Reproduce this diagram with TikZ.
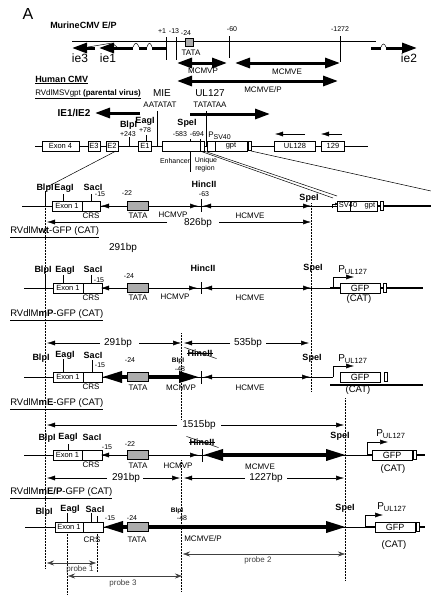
\documentclass[tikz,border=0pt]{standalone}
\usepackage{fontspec}
\setmainfont{Liberation Sans}
\usetikzlibrary{arrows.meta,positioning}
\newcommand{\pul}{{\fontsize{10}{10}\selectfont P}\raisebox{-2.5pt}{\fontsize{7.5}{8}\selectfont UL127}}

\begin{document}
\begin{tikzpicture}[x=1pt,y=-1pt,line width=0.5pt,
  every node/.style={inner sep=0pt,font=\fontsize{8}{9}\selectfont},
  site/.style={font=\bfseries\fontsize{9}{10}\selectfont},
  smallsite/.style={font=\bfseries\fontsize{6.5}{7}\selectfont},
  num/.style={font=\fontsize{7}{8}\selectfont},
  dimtxt/.style={font=\fontsize{10}{11}\selectfont},
  construct/.style={anchor=west,font=\fontsize{9.5}{10}\selectfont},
  genebox/.style={draw,fill=white,minimum height=10pt,font=\fontsize{7.5}{8}\selectfont},
  gfpbox/.style={draw,fill=white,minimum width=40pt,minimum height=10pt,font=\fontsize{9}{9}\selectfont},
  tatabox/.style={draw,fill=gray!65,minimum width=21pt,minimum height=9pt},
  endbar/.style={draw,fill=white,minimum width=3pt,minimum height=9pt},
  arr/.style={-{Latex[length=8pt,width=5pt]}},
  dimarr/.style={{Latex[length=8pt,width=5pt]}-{Latex[length=8pt,width=5pt]}},
  fatarr/.style={line width=3pt,-{Triangle[length=15pt,width=10pt]}},
  fatboth/.style={line width=3pt,{Triangle[length=15pt,width=10pt]}-{Triangle[length=15pt,width=10pt]}},
  fatrow/.style={line width=3.5pt,{Triangle[length=20pt,width=11pt]}-{Triangle[length=20pt,width=11pt]}},
  guide/.style={densely dotted,line width=0.5pt},
  probe/.style={gray!50!black,{Stealth[length=7pt,width=5pt]}-{Stealth[length=7pt,width=5pt]}},
  bb/.style={line width=1.2pt},
]
\useasboundingbox (0,0) rectangle (431,598);

\node[font=\fontsize{16}{16}\selectfont] (panelA) at (28,14) {A};
\node[anchor=west,font=\bfseries\fontsize{9}{10}\selectfont] (murine) at (50,25) {MurineCMV E/P};
\draw (72,41) -- (376,41);
\draw[fatarr] (95,48) -- (72,48);
\draw[fatarr] (118,48) -- (99,48);
\draw (88,47) -- (112,43) -- (117,47);
\draw[line width=3pt] (118,48) -- (133,48) (139,48) -- (147,48) (152,48) -- (166,48);
\draw (133,47) .. controls (135,42) and (137,42) .. (139,47);
\draw (147,47) .. controls (148.5,42) and (150.5,42) .. (152,47);
\draw (166,37) -- (166,60) (176,37) -- (176,60) (229,36) -- (229,58) (340,36) -- (340,62);
\node[draw,fill=gray!65,minimum size=8pt] (tataM) at (189,42) {};
\node[num] (m1) at (162,31) {+1};
\node[num] (m13) at (174,31) {-13};
\node[num] (m24) at (186,33) {-24};
\node[num] (m60) at (232,29) {-60};
\node[num] (m1272) at (340,29) {-1272};
\node (tataMl) at (191,53) {TATA};
\node[font=\fontsize{12}{12}\selectfont] (ie3) at (80,58) {ie3};
\node[font=\fontsize{12}{12}\selectfont] (ie1) at (108,58) {ie1};
\node[font=\fontsize{12}{12}\selectfont] (ie2) at (409,58) {ie2};
\draw[line width=3pt] (371,48) -- (381,48) (386,48) -- (393,48);
\draw (381,47) .. controls (382.5,43) and (384.5,43) .. (386,47);
\draw[fatarr] (392,48) -- (417,48);
\draw[fatboth] (177,63) -- (227,63);
\node (mcmvp) at (203,71) {MCMVP};
\draw[fatboth] (235,63) -- (340,63);
\node (mcmve) at (287,72) {MCMVE};
\draw[fatboth] (177,81) -- (338,81);
\node (mcmvep) at (263,90) {MCMVE/P};

\node[anchor=west,font=\bfseries\fontsize{9}{10}\selectfont] (human) at (35,80) {\underline{Human CMV}};
\node[anchor=west,font=\fontsize{8}{9}\selectfont] (parent) at (35,94) {\underline{RVdlMSVgpt \textbf{(parental virus)}}};
\node[font=\fontsize{10}{10}\selectfont] (mie) at (162,93) {MIE};
\node (mietata) at (160,105) {AATATAT};
\node[font=\fontsize{10}{10}\selectfont] (ul127) at (210,93) {UL127};
\node (ultata) at (210,105) {TATATAA};
\node[font=\bfseries\fontsize{10}{10}\selectfont] (ie12) at (74,113) {IE1/IE2};
\draw[fatarr] (140,113) -- (95,113);
\draw[fatarr] (190,114) -- (270,114);
\draw (35,146) -- (368,146);
\draw (129,137) -- (129,146) (146,135) -- (146,141) (157,111) -- (157,146) (206,111) -- (206,146);
\draw (190,139) -- (190,172) (200,139) -- (200,150);
\node[genebox,minimum width=37pt] (exon4) at (60.5,146) {Exon 4};
\node[genebox,minimum width=12pt] (e3) at (94,146) {E3};
\node[genebox,minimum width=12pt] (e2) at (112,146) {E2};
\node[genebox,minimum width=13pt] (e1) at (145,146) {E1};
\node[genebox,minimum width=38pt] (enh) at (181,146) {};
\node[genebox,minimum width=4pt] (uniq) at (202,146) {};
\node[genebox,minimum width=8pt] (psv) at (211,146) {};
\node[genebox,minimum width=32pt] (gpt) at (231,146) {gpt};
\node[endbar] (gptend) at (249.5,146) {};
\node[genebox,minimum width=41pt] (ul128) at (295,146) {UL128};
\node[genebox,minimum width=23pt] (ul129) at (333,146) {129};
\draw[arr] (305,134) -- (275,134);
\draw[arr] (342,134) -- (321,134);
\node[site] (blpP) at (128.5,125) {BlpI};
\node[num] (blpPn) at (128,134) {+243};
\node[site] (eagP) at (145,121) {EagI};
\node[num] (eagPn) at (145,130) {+78};
\node[site] (speP) at (187,123) {SpeI};
\node[num] (speP1) at (180,134) {-583};
\node[num] (speP2) at (197,134) {-694};
\node[anchor=west] (psvl) at (208,136) {P\raisebox{-2pt}{\fontsize{7}{7}\selectfont SV40}};
\node[num] (enhl) at (175,161) {Enhancer};
\node[num] (uniql) at (206,161) {Unique};
\node[num] (regl) at (205,169) {region};
\draw (116,151) -- (47,187);
\draw (200,151) -- (333,198);
\draw (204,151) -- (337,196);
\draw (251,151) -- (431,191);

\draw (22,206) -- (312,206);
\draw[line width=0.8pt] (312,206) -- (337,206);
\draw[-{Latex[length=3pt,width=3pt]}] (332,208) -- (332,204) -- (338,204);
\draw[bb] (377,206) -- (431,206);
\node[genebox,minimum width=40pt] (sv40gpt) at (357,206) {SV40\quad gpt};
\draw (350,201) -- (350,211);
\node[endbar] (gptend1) at (382,206) {};
\node[site] (blp1) at (45,188) {BlpI};
\draw (45,191) -- (45,206) (63,194) -- (63,201) (91,194) -- (91,201);
\node[site] (eag1) at (64,188) {EagI};
\node[site] (sac1) at (93,187) {SacI};
\node[num] (n15a) at (100,194) {-15};
\node[genebox,minimum width=30pt] (ex1a) at (67,206) {Exon 1};
\node[genebox,minimum width=18pt] (crs1) at (91,206) {};
\node (crs1l) at (91,216) {CRS};
\node[num] (n22a) at (127,193) {-22};
\draw[arr] (127,206) -- (101,206);
\node[tatabox] (tata1) at (138,206) {};
\node (tata1l) at (138,216) {TATA};
\draw[arr] (148,206) -- (198,206);
\node (hcmvp1) at (173,215) {HCMVP};
\draw (201,199) -- (201,212);
\node[site] (hinc1) at (204,184) {HincII};
\node[num] (n63) at (204,194) {-63};
\draw[dimarr] (203,206) -- (311,206);
\node (hcmve1) at (250,216) {HCMVE};
\node[site] (spe1) at (309,198) {SpeI};
\draw[guide] (311,203) -- (311,392);
\draw[guide] (45,206) -- (45,568);
\draw[arr] (167,222) -- (47,222);
\node[dimtxt] (d826) at (198,223) {826bp};
\draw[arr] (219,222) -- (311,222);
\node[construct] (c1) at (10,232) {\underline{RVdlM\textbf{wt}-GFP (CAT)}};
\node[dimtxt] (d291a) at (123,248) {291bp};

\draw (24,288) -- (330,288);
\draw[bb] (330,288) -- (423,288);
\node[site] (blp2) at (43,270) {BlpI};
\draw (45,274) -- (45,288) (63,275) -- (63,283) (91,275) -- (91,283);
\node[site] (eag2) at (65,270) {EagI};
\node[site] (sac2) at (93,269) {SacI};
\node[num] (n15b) at (99,280) {-15};
\node[genebox,minimum width=30pt] (ex1b) at (68,288) {Exon 1};
\node[genebox,minimum width=19pt] (crs2) at (92.5,288) {};
\node (crs2l) at (91,298) {CRS};
\node[num] (n24b) at (129,276) {-24};
\draw[arr] (127,288) -- (101,288);
\node[tatabox] (tata2) at (138,288) {};
\node (tata2l) at (138,298) {TATA};
\draw[arr] (148,288) -- (197,288);
\node (hcmvp2) at (175,297) {HCMVP};
\draw (201,282) -- (201,294);
\node[site] (hinc2) at (203,268) {HincII};
\draw[dimarr] (204,288) -- (311,288);
\node (hcmve2) at (250,298) {HCMVE};
\node[site] (spe2) at (313,268) {SpeI};
\draw[arr] (333,288) -- (333,277) -- (354,277);
\node[anchor=west] (pul2) at (338,270) {\pul};
\node[gfpbox] (gfp2) at (360,288) {GFP};
\node[endbar] (gfpend2) at (385,288) {};
\node[font=\fontsize{9.5}{10}\selectfont] (cat2) at (359,299) {(CAT)};
\node[construct] (c2) at (10,315) {\underline{RVdlM\textbf{mP}-GFP (CAT)}};

\draw[arr] (100,343) -- (47,343);
\node[dimtxt] (d291b) at (118,343) {291bp};
\draw[arr] (139,343) -- (181,343);
\draw[arr] (230,343) -- (184,343);
\node[dimtxt] (d535) at (248,343) {535bp};
\draw[arr] (266,343) -- (309,343);
\draw[guide] (181,333) -- (181,420);
\draw (24,377) -- (333,377);
\node[site] (blp3) at (41,358) {BlpI};
\draw (63,359) -- (63,372) (92,360) -- (92,372);
\node[site] (eag3) at (65,355) {EagI};
\node[site] (sac3) at (93,355) {SacI};
\node[num] (n15c) at (100,365) {-15};
\node[num] (n24c) at (130,360) {-24};
\node[genebox,minimum width=30pt] (ex1c) at (68,377) {Exon 1};
\node[genebox,minimum width=19pt] (crs3) at (92.5,377) {};
\node (crs3l) at (91,387) {CRS};
\draw[fatrow] (102,377) -- (199,377);
\node[tatabox] (tata3) at (138,377) {};
\node (tata3l) at (138,388) {TATA};
\node[smallsite] (blp3b) at (178,361) {BlpI};
\node[num] (n48c) at (180,369) {-48};
\node (mcmvp3) at (181,388) {MCMVP};
\draw (201,371) -- (201,384);
\node[site] (hinc3) at (200,353) {HincII};
\draw (hinc3.west) -- (hinc3.east);
\draw ([shift={(-3,-2)}]hinc3.north west) -- ([shift={(4,2)}]hinc3.south east);
\draw[dimarr] (204,377) -- (310,377);
\node (hcmve3) at (250,388) {HCMVE};
\node[site] (spe3) at (312,358) {SpeI};
\draw[arr] (333,377) -- (333,366) -- (354,366);
\node[anchor=west] (pul3) at (338,359) {\pul};
\draw[bb] (330,385) -- (423,385);
\node[gfpbox] (gfp3) at (360,377) {GFP};
\node[endbar] (gfpend3) at (386,377) {};
\node[font=\fontsize{9.5}{10}\selectfont] (cat3) at (358,390) {(CAT)};
\node[construct] (c3) at (10,404) {\underline{RVdlM\textbf{mE}-GFP (CAT)}};

\draw[arr] (177,425) -- (47,425);
\node[dimtxt] (d1515) at (199,425) {1515bp};
\draw[arr] (221,425) -- (344,425);
\draw[guide] (345,398) -- (345,580);
\draw (24,455) -- (367,455);
\draw[bb] (367,455) -- (425,455);
\node[site] (blp4) at (47,438) {BlpI};
\draw (68,444) -- (68,450);
\node[site] (eag4) at (68,437) {EagI};
\node[site] (sac4) at (92,437) {SacI};
\node[num] (n15d) at (107,447) {-15};
\node[num] (n22d) at (130,444) {-22};
\node[genebox,minimum width=29pt] (ex1d) at (67.5,455) {Exon 1};
\node[genebox,minimum width=20pt] (crs4) at (92,455) {};
\node (crs4l) at (91,465) {CRS};
\draw[arr] (125,455) -- (101,455);
\node[tatabox] (tata4) at (137.5,455) {};
\node (tata4l) at (138,466) {TATA};
\draw[arr] (148,455) -- (198,455);
\node (hcmvp4) at (178,466) {HCMVP};
\draw (202,449) -- (202,462);
\node[site] (hinc4) at (202,442) {HincII};
\draw (hinc4.west) -- (hinc4.east);
\draw ([shift={(-3,-2)}]hinc4.north west) -- ([shift={(4,2)}]hinc4.south east);
\draw[fatrow] (203,455) -- (346,455);
\node (mcmve4) at (260,467) {MCMVE};
\node[site] (spe4) at (340,436) {SpeI};
\draw[arr] (367,455) -- (367,442) -- (388,442);
\node[anchor=west] (pul4) at (376,434) {\pul};
\node[gfpbox] (gfp4) at (392,455) {GFP};
\node[endbar] (gfpend4) at (415,455) {};
\node[font=\fontsize{9.5}{10}\selectfont] (cat4) at (393,469) {(CAT)};
\draw[arr] (107,478) -- (47,478);
\node[dimtxt] (d291c) at (126,478) {291bp};
\draw[arr] (143,478) -- (180,478);
\draw[arr] (245,478) -- (184,478);
\node[dimtxt] (d1227) at (266,478) {1227bp};
\draw[arr] (287,478) -- (344,478);
\draw[guide] (181,460) -- (181,592);
\node[construct] (c4) at (10,493) {\underline{RVdlM\textbf{mE/P}-GFP (CAT)}};

\draw (25,527) -- (365,527);
\draw[bb] (365,527) -- (425,527);
\node[site] (blp5) at (44,512) {BlpI};
\draw (67,513) -- (67,522) (91,513) -- (91,522) (97,516) -- (97,522);
\node[site] (eag5) at (70,509) {EagI};
\node[site] (sac5) at (95,509) {SacI};
\node[num] (n15e) at (110,518) {-15};
\node[num] (n24e) at (132,518) {-24};
\node[genebox,minimum width=28pt] (ex1e) at (69,527) {Exon 1};
\node[genebox,minimum width=20pt] (crs5) at (93,527) {};
\node (crs5l) at (92,540) {CRS};
\draw[fatrow] (103,527) -- (346,527);
\node[tatabox] (tata5) at (137.5,527) {};
\node (tata5l) at (137,540) {TATA};
\node[smallsite] (blp5b) at (177,511) {BlpI};
\node[num] (n48e) at (182,518) {-48};
\node (mcmvep5) at (203,539) {MCMVE/P};
\node[site] (spe5) at (345,508) {SpeI};
\draw[arr] (365,527) -- (365,515) -- (383,515);
\node[anchor=west] (pul5) at (377,507) {\pul};
\node[gfpbox] (gfp5) at (395,527) {GFP};
\node[endbar] (gfpend5) at (418,527) {};
\node[font=\fontsize{9.5}{10}\selectfont] (cat5) at (394,545) {(CAT)};
\draw[guide] (67,532) -- (67,594) (97,532) -- (97,572);
\draw[probe] (183,554) -- (345,554);
\node[text=gray!50!black] (pr2) at (258,560) {probe 2};
\draw[probe] (47,563) -- (96,563);
\node[text=gray!50!black] (pr1) at (80,569) {probe 1};
\draw[probe] (68,576) -- (182,576);
\node[text=gray!50!black] (pr3) at (123,583) {probe 3};
\end{tikzpicture}
\end{document}
